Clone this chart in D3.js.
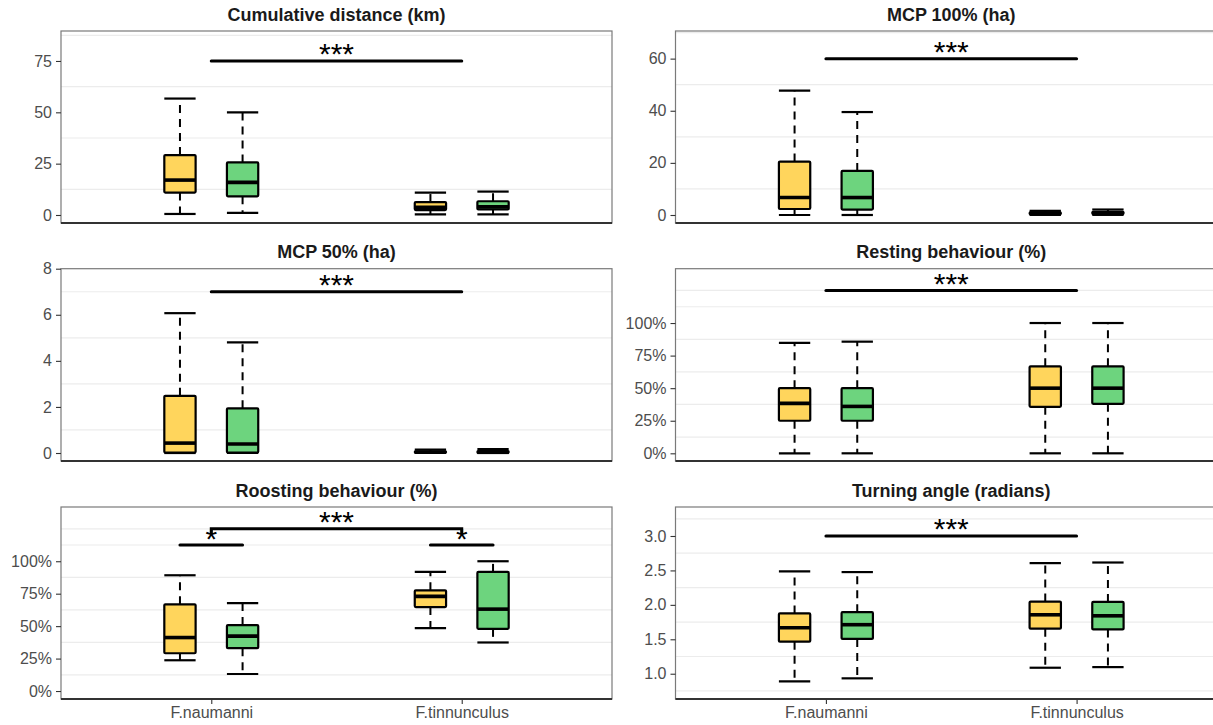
<!DOCTYPE html>
<html>
<head>
<meta charset="utf-8">
<script src="https://cdn.jsdelivr.net/npm/d3@7"></script>
<style>
  body { margin: 0; background: #ffffff; }
  svg text { font-family: "Liberation Sans", Arial, Helvetica, sans-serif; }
</style>
</head>
<body>
<svg id="chart" width="1213" height="725"></svg>
<script>
// ---- data -------------------------------------------------------------
const categories = ["F.naumanni", "F.tinnunculus"];
const subgroups = ["first", "second"];

// box statistics: [lower whisker, Q1, median, Q3, upper whisker]
// order: naumanni-first, naumanni-second, tinnunculus-first, tinnunculus-second
const cumulativeDistance = [
  [0.5, 10.9, 17.0, 29.2, 56.7],
  [1.0, 9.1, 15.9, 25.6, 50.0],
  [0.3, 2.4, 3.7, 6.3, 10.9],
  [0.3, 2.7, 4.0, 6.7, 11.4]
];
const mcp100 = [
  [0.0, 2.3, 6.7, 20.5, 47.7],
  [0.0, 2.1, 6.7, 16.9, 39.5],
  [0.05, 0.3, 0.6, 1.0, 1.6],
  [0.05, 0.35, 0.7, 1.2, 2.1]
];
const mcp50 = [
  [0.0, 0.02, 0.43, 2.48, 6.07],
  [0.0, 0.02, 0.39, 1.94, 4.80],
  [0.0, 0.01, 0.03, 0.07, 0.15],
  [0.0, 0.01, 0.04, 0.08, 0.17]
];
const restingShare = [
  [0.0, 0.25, 0.383, 0.50, 0.847],
  [0.0, 0.25, 0.36, 0.50, 0.857],
  [0.0, 0.357, 0.50, 0.668, 1.0],
  [0.0, 0.38, 0.50, 0.668, 1.0]
];
const roostingShare = [
  [0.237, 0.291, 0.412, 0.668, 0.892],
  [0.131, 0.33, 0.423, 0.508, 0.678],
  [0.485, 0.647, 0.729, 0.776, 0.918],
  [0.374, 0.479, 0.631, 0.918, 1.0]
];
const turningAngle = [
  [0.889, 1.466, 1.668, 1.875, 2.486],
  [0.933, 1.505, 1.712, 1.894, 2.476],
  [1.087, 1.654, 1.856, 2.048, 2.606],
  [1.096, 1.644, 1.841, 2.043, 2.615]
];

// tick labels
const distanceTicks = [0, 25, 50, 75];
const mcp100Ticks = [0, 20, 40, 60];
const mcp50Ticks = [0, 2, 4, 6, 8];
const shareTicks = [0, 0.25, 0.5, 0.75, 1];
const angleTicks = [1.0, 1.5, 2.0, 2.5, 3.0];

// significance brackets
const distanceSignif = [{ from: [0, null], to: [1, null], y: 75, label: "***" }];
const mcp100Signif = [{ from: [0, null], to: [1, null], y: 60, label: "***" }];
const mcp50Signif = [{ from: [0, null], to: [1, null], y: 7, label: "***" }];
const restingSignif = [{ from: [0, null], to: [1, null], y: 1.25, label: "***" }];
const roostingSignif = [
  { from: [0, null], to: [1, null], y: 1.25, label: "***", tips: true },
  { from: [0, 0], to: [0, 1], y: 1.125, label: "*" },
  { from: [1, 0], to: [1, 1], y: 1.125, label: "*" }
];
const angleSignif = [{ from: [0, null], to: [1, null], y: 3.0, label: "***" }];

// ---- layout ------------------------------------------------------------
const fills = { first: "#ffd55c", second: "#6dd47e" };
const columns = [[61, 612], [675.5, 1227]];
const rows = [[31, 223], [268.7, 461], [507, 699]];

const panels = [
  { title: "Cumulative distance (km)", stats: cumulativeDistance, ticks: distanceTicks, fmt: d3.format("d"),
    limits: [-3.9, 89.6], signif: distanceSignif, col: 0, row: 0 },
  { title: "MCP 100% (ha)", stats: mcp100, ticks: mcp100Ticks, fmt: d3.format("d"),
    limits: [-3.07, 70.6], signif: mcp100Signif, col: 1, row: 0 },
  { title: "MCP 50% (ha)", stats: mcp50, ticks: mcp50Ticks, fmt: d3.format("d"),
    limits: [-0.347, 8.0], signif: mcp50Signif, col: 0, row: 1 },
  { title: "Resting behaviour (%)", stats: restingShare, ticks: shareTicks, fmt: d3.format(".0%"),
    limits: [-0.059, 1.417], signif: restingSignif, col: 1, row: 1 },
  { title: "Roosting behaviour (%)", stats: roostingShare, ticks: shareTicks, fmt: d3.format(".0%"),
    limits: [-0.0615, 1.418], signif: roostingSignif, col: 0, row: 2, xAxis: true },
  { title: "Turning angle (radians)", stats: turningAngle, ticks: angleTicks, fmt: d3.format(".1f"),
    limits: [0.633, 3.421], signif: angleSignif, col: 1, row: 2, xAxis: true }
];

// minor breaks placed between (and one step beyond) the labelled breaks
function minorBreaks(ticks, limits) {
  const step = ticks[1] - ticks[0];
  const ext = ticks.slice();
  if (limits[0] < ticks[0]) ext.unshift(ticks[0] - step);
  if (limits[1] > ticks[ticks.length - 1]) ext.push(ticks[ticks.length - 1] + step);
  const out = [];
  for (let i = 0; i < ext.length; i++) {
    out.push(ext[i]);
    if (i < ext.length - 1) out.push((ext[i] + ext[i + 1]) / 2);
  }
  const eps = step * 1e-6;
  return out.filter(v => v > limits[0] && v < limits[1] && !ticks.some(t => Math.abs(t - v) < eps));
}

const svg = d3.select("#chart");
const starSize = 30;

panels.forEach(p => {
  const [x0, x1] = columns[p.col];
  const [y0, y1] = rows[p.row];
  const g = svg.append("g");

  const x = d3.scalePoint().domain(categories).range([x0, x1]).padding(0.6);
  const y = d3.scaleLinear().domain(p.limits).range([y1, y0]);
  const step = x.step();
  const boxW = 0.125 * step;
  const dodge = d3.scalePoint().domain(subgroups).range([-0.125 * step, 0.125 * step]);

  // grid
  g.append("g").selectAll("line").data(minorBreaks(p.ticks, p.limits)).join("line")
    .attr("x1", x0).attr("x2", x1)
    .attr("y1", d => y(d)).attr("y2", d => y(d))
    .attr("stroke", "#ececec").attr("stroke-width", 1.2);

  // boxes
  const boxes = [];
  categories.forEach((c, ci) => subgroups.forEach((s, si) => {
    const st = p.stats[ci * subgroups.length + si];
    boxes.push({ cx: x(c) + dodge(s), s, lo: st[0], q1: st[1], med: st[2], q3: st[3], hi: st[4] });
  }));

  const bg = g.append("g").selectAll("g").data(boxes).join("g");
  // whiskers
  bg.append("line").attr("x1", d => d.cx).attr("x2", d => d.cx)
    .attr("y1", d => y(d.q3)).attr("y2", d => y(d.hi))
    .attr("stroke", "#000").attr("stroke-width", 2).attr("stroke-dasharray", "8,6");
  bg.append("line").attr("x1", d => d.cx).attr("x2", d => d.cx)
    .attr("y1", d => y(d.q1)).attr("y2", d => y(d.lo))
    .attr("stroke", "#000").attr("stroke-width", 2).attr("stroke-dasharray", "8,6");
  // caps
  ["hi", "lo"].forEach(k => {
    bg.append("line").attr("x1", d => d.cx - boxW / 2).attr("x2", d => d.cx + boxW / 2)
      .attr("y1", d => y(d[k])).attr("y2", d => y(d[k]))
      .attr("stroke", "#000").attr("stroke-width", 2.2);
  });
  // box body
  bg.append("rect")
    .attr("x", d => d.cx - boxW / 2).attr("width", boxW)
    .attr("y", d => y(d.q3)).attr("height", d => Math.max(0.01, y(d.q1) - y(d.q3)))
    .attr("fill", d => fills[d.s]).attr("stroke", "#000").attr("stroke-width", 2.2)
    .attr("rx", 1);
  // median
  bg.append("line").attr("x1", d => d.cx - boxW / 2).attr("x2", d => d.cx + boxW / 2)
    .attr("y1", d => y(d.med)).attr("y2", d => y(d.med))
    .attr("stroke", "#000").attr("stroke-width", 3.6);

  // panel border and bottom axis line
  g.append("rect").attr("x", x0).attr("y", y0).attr("width", x1 - x0).attr("height", y1 - y0)
    .attr("fill", "none").attr("stroke", "#7a7a7a").attr("stroke-width", 1.2);
  g.append("line").attr("x1", x0).attr("x2", x1).attr("y1", y1).attr("y2", y1)
    .attr("stroke", "#333").attr("stroke-width", 1.8);

  // y axis
  const ya = g.append("g").attr("transform", `translate(${x0},0)`)
    .call(d3.axisLeft(y).tickValues(p.ticks).tickFormat(p.fmt).tickSize(5).tickPadding(4));
  ya.select(".domain").remove();
  ya.selectAll(".tick line").attr("stroke", "#333").attr("stroke-width", 1.1);
  ya.selectAll(".tick text").attr("fill", "#4d4d4d").style("font-size", "16px")
    .style("font-family", '"Liberation Sans", Arial, sans-serif');

  // x axis (bottom row only)
  if (p.xAxis) {
    const xa = g.append("g").attr("transform", `translate(0,${y1})`)
      .call(d3.axisBottom(x).tickSize(5).tickPadding(3));
    xa.select(".domain").remove();
    xa.selectAll(".tick line").attr("stroke", "#333").attr("stroke-width", 1.1);
    xa.selectAll(".tick text").attr("fill", "#4d4d4d").style("font-size", "16px")
      .style("font-family", '"Liberation Sans", Arial, sans-serif');
  }

  // significance brackets
  const posOf = ([ci, si]) => x(categories[ci]) + (si === null ? 0 : dodge(subgroups[si]));
  p.signif.forEach(s => {
    const xa = posOf(s.from), xb = posOf(s.to), yy = y(s.y);
    const path = d3.path();
    if (s.tips) { path.moveTo(xa, yy + 4.5); path.lineTo(xa, yy); path.lineTo(xb, yy); path.lineTo(xb, yy + 4.5); }
    else { path.moveTo(xa, yy); path.lineTo(xb, yy); }
    g.append("path").attr("d", path.toString()).attr("fill", "none")
      .attr("stroke", "#000").attr("stroke-width", 3).attr("stroke-linecap", "round");
    g.append("text").attr("x", (xa + xb) / 2).attr("y", yy + 3.5)
      .attr("text-anchor", "middle").style("font-size", starSize + "px").attr("fill", "#000")
      .text(s.label);
  });

  // title
  g.append("text").attr("x", (x0 + x1) / 2).attr("y", y0 - 10.5)
    .attr("text-anchor", "middle").style("font-size", "18px").style("font-weight", "bold")
    .attr("fill", "#1a1a1a").text(p.title);
});
</script>
</body>
</html>
